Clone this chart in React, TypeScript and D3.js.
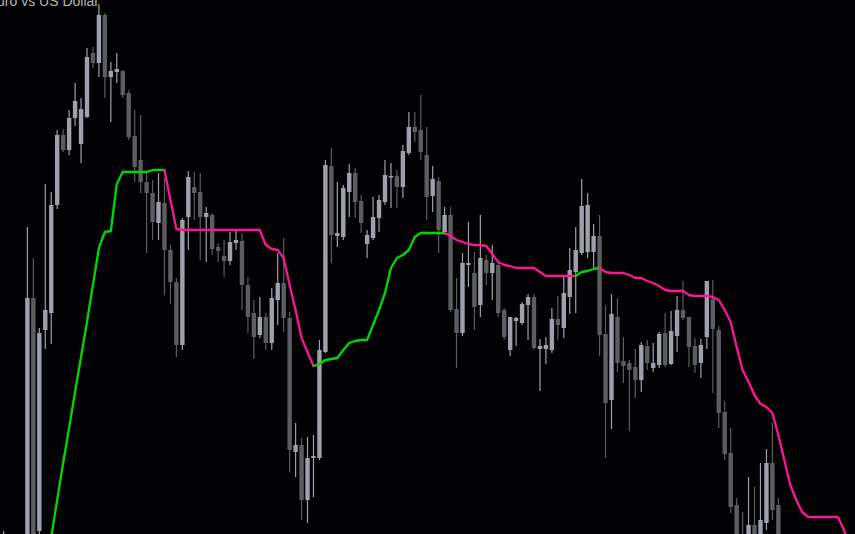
import React from "react";
import * as d3 from "d3";

// Price levels (points), one entry per candle, left to right.
const opens = [30,40,10,20,
40,302,69,270,287,395,465,450,482,456,
483,547,537,585,523,528,529,507,464,440,
418,407,377,397,350,318,255,383,413,408,
383,385,353,344,339,357,359,315,287,265,
283,257,300,317,282,148,155,100,142,142,
248,434,364,363,408,427,399,356,362,382,
398,423,424,413,447,473,470,445,404,419,
368,385,291,267,335,327,295,340,327,335,
290,250,279,277,295,303,251,251,250,281,
272,303,328,347,348,348,364,266,200,283,
239,237,233,220,254,232,235,267,236,264,
290,283,254,237,263,301,270,188,147,95,
60,40,75,40,77,137,95,40,15,35,
12,-5,15,-8,10,-12,-25,-10,-30];
const highs = [69,50,40,60,
373,342,272,416,408,470,471,490,517,502,
552,553,596,587,538,547,530,510,490,485,
428,420,427,422,355,322,382,429,428,427,
393,387,357,360,368,370,367,323,300,303,
287,312,347,362,288,177,162,163,165,260,
440,452,418,415,436,432,405,370,403,405,
440,437,430,455,488,488,505,473,434,423,
393,393,322,347,378,348,385,345,355,340,
292,283,283,298,306,306,261,263,292,304,
323,352,373,421,407,376,385,295,306,302,
263,240,251,258,260,257,268,287,289,304,
319,283,262,261,319,320,274,199,172,102,
88,123,113,137,151,177,102,60,50,45,
30,25,28,20,18,5,0,-5,-20];
const lows = [20,10,0,15,
35,30,64,251,256,391,448,445,474,437,
482,532,523,502,478,517,502,460,418,407,
347,360,360,305,296,243,250,350,380,340,
338,345,338,323,335,350,290,267,241,262,
250,250,275,268,128,123,80,77,103,140,
247,337,353,360,383,382,367,342,360,368,
395,392,392,402,445,458,440,380,388,347,
365,288,232,264,313,270,283,315,300,283,
260,244,254,275,260,250,209,236,247,260,
262,286,287,345,342,330,244,142,171,228,
217,169,202,208,230,228,232,233,235,248,
280,233,227,222,251,207,172,140,87,30,
10,35,32,35,70,80,25,10,5,0,
-15,-10,-20,-18,-25,-35,-30,-40,-55];
const closes = [55,20,30,50,
302,40,267,290,395,465,450,482,499,491,
543,537,585,523,529,531,505,463,433,418,
407,378,398,350,318,255,380,423,407,383,
387,351,349,339,358,360,315,283,263,283,
257,302,317,282,150,155,100,142,144,250,
435,365,367,412,427,398,377,365,383,400,
425,424,413,449,473,468,448,403,421,370,
385,290,267,337,337,293,342,327,337,287,
263,283,282,296,303,252,254,255,281,275,
307,330,350,394,395,364,265,197,286,237,
234,230,220,255,237,237,266,235,269,290,
282,253,235,255,319,271,187,146,93,40,
20,75,40,80,137,90,40,20,35,10,
-5,15,-8,10,-12,-25,-10,-30,-45];
// Trend-line indicator values (same index as candles)
const trendLine: (number | null)[] = [null,null,null,null,
-80,-45,-9,27,63,100,137,172,208,243,
278,315,352,368,369,416,428,428,428,428,
428,430,430,430,400,371,370,370,370,370,
370,370,370,370,370,370,370,370,370,370,
355,351,350,342,315,290,262,248,234,236,
240,241,242,250,257,259,260,260,275,290,
307,332,342,345,350,363,367,367,367,367,
367,364,360,358,356,355,355,354,346,338,
335,334,332,332,332,332,328,324,324,324,
324,324,324,328,329,331,332,328,327,327,
327,325,322,322,319,317,314,310,309,309,
309,305,304,304,304,303,300,290,278,253,
230,218,205,196,193,187,165,140,115,100,
88,83,83,83,83,83,83,70,55];
const title = "Euro vs US Dollar";

const W = 855;
const H = 534;
const BG = "#020204";
const BULL = "#9ea1ac";
const BEAR = "#5c5d61";
const UP = "#00d900";
const DOWN = "#ff1493";

export default function App() {
  const n = opens.length;
  const x = d3.scaleLinear().domain([0, n - 1]).range([3.56, 3.56 + 5.96 * (n - 1)]);
  const y = d3.scaleLinear().domain([66, 600]).range([H, 0]);
  const bodyW = 4.4;

  // trend colouring: rising -> up colour, falling -> down colour, flat keeps last
  const segs: { color: string; pts: [number, number][] }[] = [];
  let trend = 1;
  for (let i = 1; i < n; i++) {
    const a = trendLine[i - 1];
    const b = trendLine[i];
    if (a == null || b == null) continue;
    if (b > a) trend = 1;
    else if (b < a) trend = -1;
    const color = trend > 0 ? UP : DOWN;
    const last = segs[segs.length - 1];
    if (last && last.color === color) {
      last.pts.push([i, b]);
    } else {
      segs.push({ color, pts: [[i - 1, a], [i, b]] });
    }
  }
  const line = d3
    .line<[number, number]>()
    .x((d) => x(d[0]))
    .y((d) => y(d[1]));

  return (
    <svg
      width={W}
      height={H}
      style={{ position: "absolute", left: 0, top: 0, display: "block", background: BG }}
    >
      <rect x={0} y={0} width={W} height={H} fill={BG} />
      {opens.map((o, i) => {
        const c = closes[i];
        const bull = c >= o;
        const col = bull ? BULL : BEAR;
        const cx = x(i);
        const top = y(Math.max(o, c));
        const bot = y(Math.min(o, c));
        return (
          <g key={i}>
            <line x1={cx} x2={cx} y1={y(highs[i])} y2={y(lows[i])} stroke={col} strokeWidth={1.2} />
            <rect x={cx - bodyW / 2} y={top} width={bodyW} height={Math.max(1.5, bot - top)} fill={col} />
          </g>
        );
      })}
      {segs.map((s, k) => (
        <path
          key={k}
          d={line(s.pts) || ""}
          fill="none"
          stroke={s.color}
          strokeWidth={2.3}
          strokeLinejoin="round"
          strokeLinecap="round"
        />
      ))}
      <text
        x={99}
        y={5.5}
        textAnchor="end"
        fill="#b4b4b4"
        fontSize={14}
        fontFamily="Liberation Sans, Arial, sans-serif"
      >
        {title}
      </text>
    </svg>
  );
}
